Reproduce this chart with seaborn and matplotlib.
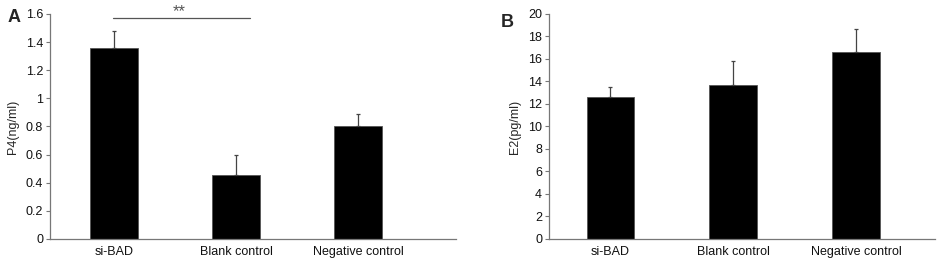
import numpy as np
import pandas as pd
import matplotlib
matplotlib.use("Agg")
import matplotlib.pyplot as plt
import seaborn as sns

# Data
groups = ["si-BAD", "Blank control", "Negative control"]
p4_mean = [1.355, 0.455, 0.80]
p4_err = [0.125, 0.145, 0.09]
e2_mean = [12.6, 13.7, 16.65]
e2_err = [0.95, 2.1, 2.05]

sns.set_style("white")
plt.rcParams["font.family"] = ["Liberation Sans", "DejaVu Sans"]
plt.rcParams["font.size"] = 9

fig = plt.figure(figsize=(9.39, 2.64), dpi=100)
ax_a = fig.add_axes([0.0532, 0.0947, 0.4324, 0.8523])
ax_b = fig.add_axes([0.5847, 0.0947, 0.4110, 0.8523])


def draw_panel(ax, means, errs, ylim, yticks, ylabel, xlim):
    df = pd.DataFrame({"group": groups, "value": means})
    sns.barplot(data=df, x="group", y="value", color="black", width=0.39,
                edgecolor="#555555", linewidth=0.6, saturation=1, ax=ax)
    ax.errorbar(range(len(groups)), means, yerr=[np.zeros(len(errs)), errs],
                fmt="none", ecolor="#444444", elinewidth=0.9, capsize=1.5,
                capthick=0.9)
    ax.set_ylim(*ylim)
    ax.set_xlim(*xlim)
    ax.set_yticks(yticks)
    ax.set_yticklabels([f"{t:g}" for t in yticks])
    ax.set_xlabel("")
    ax.set_ylabel(ylabel, fontsize=9, labelpad=5)
    for side in ["top", "right"]:
        ax.spines[side].set_visible(False)
    for side in ["left", "bottom"]:
        ax.spines[side].set_color("#777777")
        ax.spines[side].set_linewidth(0.9)
    ax.tick_params(axis="y", direction="out", length=3, width=0.8,
                   color="#777777", labelsize=9, pad=2, left=True,
                   labelcolor="#111111")
    ax.tick_params(axis="x", length=0, labelsize=9, pad=5,
                   labelcolor="#111111")


draw_panel(ax_a, p4_mean, p4_err, (0, 1.6),
           [0, 0.2, 0.4, 0.6, 0.8, 1, 1.2, 1.4, 1.6], "P4(ng/ml)", (-0.525, 2.8))
draw_panel(ax_b, e2_mean, e2_err, (0, 20),
           list(range(0, 21, 2)), "E2(pg/ml)", (-0.5, 2.64))

# significance bar between si-BAD and Blank control
ax_a.plot([-0.01, 1.11], [1.57, 1.57], color="#555555", lw=0.9, clip_on=False)
ax_a.text(0.53, 1.565, "**", ha="center", va="bottom", fontsize=12, color="#555555")

fig.text(0.008, 0.935, "A", fontsize=13, fontweight="bold", va="center")
fig.text(0.533, 0.915, "B", fontsize=13, fontweight="bold", va="center")

fig.savefig("out.png", dpi=100)
